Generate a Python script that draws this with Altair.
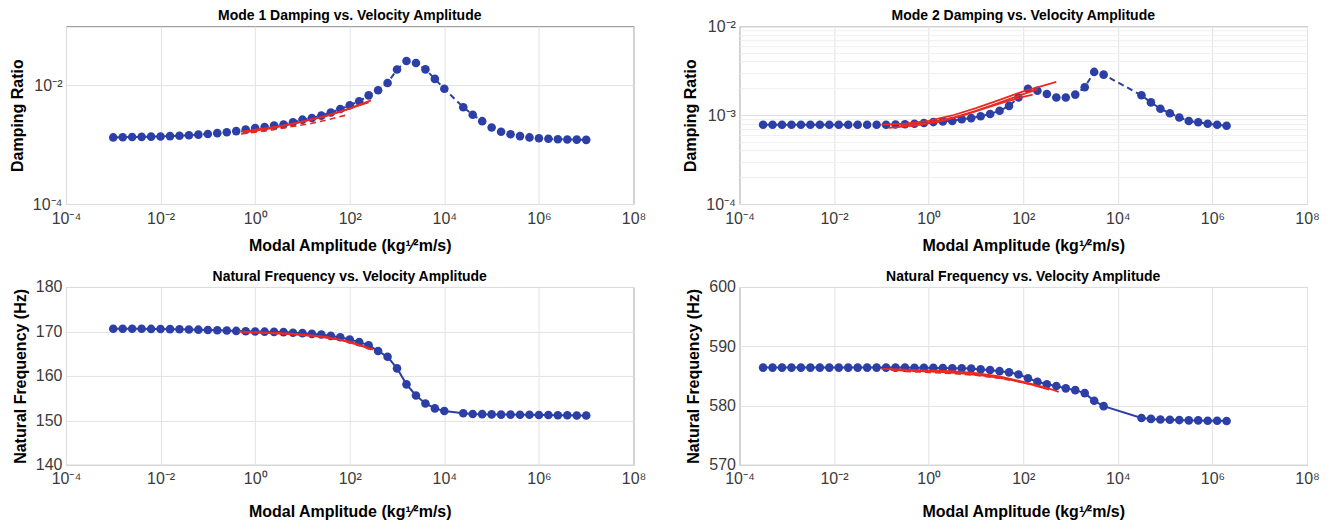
import altair as alt
import pandas as pd

FONT = "Liberation Sans"
BLUE = "#2b3fa6"
RED = "#ea2a22"
X_TITLE = "Modal Amplitude (kg¹⁄²m/s)"
X_TICK_EXP = [-4, -2, 0, 2, 4, 6, 8]

# ---------------- Panel 1: Mode 1 damping (values in units of 1e-3) ----------------
P1_EXP = [-3.0, -2.8, -2.6, -2.4, -2.2, -2.0, -1.8, -1.6, -1.4, -1.2, -1.0, -0.8, -0.6, -0.4, -0.2,
          0.0, 0.2, 0.4, 0.6, 0.8, 1.0, 1.2, 1.4, 1.6, 1.8, 2.0, 2.2, 2.4, 2.6, 2.8, 3.0, 3.2, 3.4,
          3.6, 3.8, 4.0, 4.4, 4.6, 4.8, 5.0, 5.2, 5.4, 5.6, 5.8, 6.0, 6.2, 6.4, 6.6, 6.8, 7.0]
P1_DAMP = [1.33, 1.34, 1.35, 1.36, 1.37, 1.38, 1.40, 1.42, 1.45, 1.48, 1.52, 1.57, 1.63, 1.70, 1.80,
           1.92, 1.99, 2.10, 2.19, 2.40, 2.65, 2.83, 3.10, 3.50, 4.00, 4.65, 5.40, 6.80, 8.30, 11.0,
           18.6, 25.8, 24.0, 18.7, 12.9, 8.8, 4.3, 3.2, 2.5, 1.96, 1.66, 1.50, 1.40, 1.33, 1.29,
           1.26, 1.24, 1.23, 1.22, 1.21]
P1_RA_EXP = [-0.3, 0.0, 0.5, 1.0, 1.5, 2.0, 2.45]
P1_RA_DAMP = [1.66, 1.80, 2.05, 2.45, 3.05, 4.10, 5.60]
P1_RB_EXP = [-0.25, 0.3, 0.8, 1.3, 1.8, 2.2, 2.4]
P1_RB_DAMP = [1.60, 1.88, 2.25, 2.80, 3.60, 4.60, 5.20]
P1_RC_EXP = [-0.3, 0.2, 0.7, 1.2, 1.6, 1.95]
P1_RC_DAMP = [1.52, 1.70, 1.98, 2.30, 2.72, 3.20]

# ---------------- Panel 2: Mode 2 damping (values in units of 1e-3) ----------------
P2_EXP = [-3.5, -3.3, -3.1, -2.9, -2.7, -2.5, -2.3, -2.1, -1.9, -1.7, -1.5, -1.3, -1.1, -0.9, -0.7,
          -0.5, -0.3, -0.1, 0.1, 0.3, 0.5, 0.7, 0.9, 1.1, 1.3, 1.5, 1.7, 1.9, 2.1, 2.3, 2.5, 2.7,
          2.9, 3.1, 3.3, 3.5, 3.7, 4.5, 4.7, 4.9, 5.1, 5.3, 5.5, 5.7, 5.9, 6.1, 6.3]
P2_DAMP = [0.78, 0.78, 0.78, 0.78, 0.78, 0.78, 0.78, 0.78, 0.78, 0.78, 0.78, 0.78, 0.78, 0.78, 0.785,
           0.79, 0.80, 0.815, 0.835, 0.85, 0.86, 0.90, 0.925, 0.97, 1.03, 1.12, 1.27, 1.58, 1.98,
           1.88, 1.73, 1.58, 1.58, 1.70, 2.06, 3.06, 2.85, 1.67, 1.39, 1.18, 1.05, 0.94, 0.86,
           0.83, 0.80, 0.78, 0.76]
P2_RA_EXP = [-1.0, -0.5, 0.0, 0.5, 1.0, 1.5, 2.0, 2.5, 2.7]
P2_RA_DAMP = [0.78, 0.80, 0.86, 0.99, 1.20, 1.48, 1.85, 2.20, 2.36]
P2_RB_EXP = [-0.85, -0.3, 0.2, 0.7, 1.2, 1.7, 2.0, 2.2]
P2_RB_DAMP = [0.72, 0.76, 0.84, 0.98, 1.20, 1.45, 1.60, 1.70]
P2_RC_EXP = [-0.6, 0.0, 0.5, 1.0, 1.5, 2.0, 2.3]
P2_RC_DAMP = [0.75, 0.82, 0.93, 1.12, 1.38, 1.72, 1.95]

# ---------------- Panel 3: Mode 1 natural frequency (Hz) ----------------
P3_EXP = P1_EXP
P3_FREQ = [170.6, 170.6, 170.6, 170.6, 170.57, 170.55, 170.52, 170.48, 170.44, 170.4, 170.33, 170.27,
           170.2, 170.12, 170.05, 170.0, 169.95, 169.9, 169.85, 169.72, 169.62, 169.45, 169.3, 169.0,
           168.7, 168.2, 167.6, 166.9, 165.6, 164.3, 161.7, 158.1, 155.6, 153.8, 152.7, 152.1,
           151.6, 151.45, 151.4, 151.35, 151.3, 151.3, 151.25, 151.25, 151.2, 151.2, 151.15, 151.15,
           151.1, 151.1]
P3_RA_EXP = [-0.35, 0.0, 0.5, 1.0, 1.5, 2.0, 2.5]
P3_RA_FREQ = [169.95, 169.85, 169.65, 169.35, 168.8, 167.7, 165.9]
P3_RB_EXP = [-0.3, 0.3, 0.8, 1.3, 1.8, 2.3, 2.45]
P3_RB_FREQ = [169.8, 169.65, 169.35, 168.9, 168.1, 166.6, 165.9]

# ---------------- Panel 4: Mode 2 natural frequency (Hz) ----------------
P4_EXP = P2_EXP
P4_FREQ = [586.4, 586.4, 586.4, 586.4, 586.4, 586.4, 586.4, 586.4, 586.4, 586.4, 586.4, 586.4, 586.4,
           586.4, 586.4, 586.4, 586.38, 586.36, 586.35, 586.33, 586.3, 586.28, 586.25, 586.1, 586.0,
           585.8, 585.6, 585.25, 584.6, 584.0, 583.6, 583.3, 582.9, 582.6, 582.1, 580.8, 579.9,
           577.9, 577.75, 577.65, 577.6, 577.55, 577.5, 577.5, 577.45, 577.45, 577.4]
P4_RA_EXP = [-1.0, -0.5, 0.0, 0.5, 1.0, 1.5, 2.0, 2.5, 2.75]
P4_RA_FREQ = [586.2, 586.05, 585.95, 585.8, 585.45, 584.9, 584.0, 583.0, 582.3]
P4_RB_EXP = [-0.8, -0.3, 0.2, 0.7, 1.2, 1.7, 2.2, 2.55]
P4_RB_FREQ = [586.0, 585.85, 585.7, 585.45, 585.0, 584.4, 583.5, 582.7]
P4_RC_EXP = [-0.5, 0.0, 0.5, 1.0, 1.5, 2.0, 2.4]
P4_RC_FREQ = [585.75, 585.6, 585.4, 585.1, 584.6, 583.9, 583.1]

SUP = str.maketrans("-0123456789", "⁻⁰¹²³⁴⁵⁶⁷⁸⁹")


def sup(e):
    return "10" + str(e).translate(SUP)


def label_expr(exps):
    parts = [f"abs(log(datum.value)/LN10 - ({e})) < 0.01 ? '{sup(e)}'" for e in exps]
    return " : ".join(parts) + " : ''"


W = 568
H = 178

x_scale = alt.Scale(type="log", domain=[1e-4, 1e8], nice=False)


def x_axis(title_pad):
    return alt.Axis(values=[10.0 ** e for e in X_TICK_EXP], labelExpr=label_expr(X_TICK_EXP),
                    labelFlush=False, labelOverlap=False, labelPadding=6, titlePadding=title_pad)


def make_panel(title, bexp, bval, reds, y_scale, y_axis, y_title, scale_factor, dashed_blue,
               title_pad, title_offset):
    bdf = pd.DataFrame({"x": [10.0 ** e for e in bexp], "y": [v * scale_factor for v in bval]})
    x = alt.X("x:Q", scale=x_scale, axis=x_axis(title_pad), title=X_TITLE)
    y = alt.Y("y:Q", scale=y_scale, axis=y_axis, title=y_title)
    line_kw = dict(color=BLUE, strokeWidth=2, clip=True)
    if dashed_blue:
        line_kw["strokeDash"] = [6, 4]
    layers = [
        alt.Chart(bdf).mark_line(**line_kw).encode(x=x, y=y),
        alt.Chart(bdf).mark_circle(color=BLUE, size=74, opacity=1).encode(x=x, y=y),
    ]
    solid_rows, dash_rows = [], []
    for name, es, vs, dashed in reds:
        for e, v in zip(es, vs):
            (dash_rows if dashed else solid_rows).append({"x": 10.0 ** e, "y": v * scale_factor, "s": name})
    if solid_rows:
        layers.append(alt.Chart(pd.DataFrame(solid_rows)).mark_line(color=RED, strokeWidth=1.8)
                      .encode(x=x, y=y, detail="s:N"))
    if dash_rows:
        layers.append(alt.Chart(pd.DataFrame(dash_rows)).mark_line(color=RED, strokeWidth=1.6,
                                                                   strokeDash=[6, 4])
                      .encode(x=x, y=y, detail="s:N"))
    return alt.layer(*layers).properties(
        width=W, height=H, title=alt.TitleParams(text=title, offset=title_offset))


# y axes
y1_axis = alt.Axis(values=[1e-4, 1e-2], labelExpr=label_expr([-4, -2]), titlePadding=7)
minor_vals = [m * 10.0 ** d for d in (-4, -3) for m in range(1, 10)] + [1e-2]
y2_axis = alt.Axis(
    values=minor_vals, labelExpr=label_expr([-4, -3, -2]), titlePadding=7,
    gridColor={"condition": {"test": "abs(log(datum.value)/LN10 - round(log(datum.value)/LN10)) < 0.01",
                             "value": "#dedede"}, "value": "#efefef"},
)
y3_axis = alt.Axis(values=[140, 150, 160, 170, 180], titlePadding=7)
y4_axis = alt.Axis(values=[570, 580, 590, 600], titlePadding=7)

p1 = make_panel("Mode 1 Damping vs. Velocity Amplitude", P1_EXP, P1_DAMP,
                [("a", P1_RA_EXP, P1_RA_DAMP, False), ("b", P1_RB_EXP, P1_RB_DAMP, False),
                 ("c", P1_RC_EXP, P1_RC_DAMP, True)],
                alt.Scale(type="log", domain=[1e-4, 1e-1], nice=False), y1_axis, "Damping Ratio",
                1e-3, True, 11, 3)
p2 = make_panel("Mode 2 Damping vs. Velocity Amplitude", P2_EXP, P2_DAMP,
                [("a", P2_RA_EXP, P2_RA_DAMP, False), ("b", P2_RB_EXP, P2_RB_DAMP, False),
                 ("c", P2_RC_EXP, P2_RC_DAMP, False)],
                alt.Scale(type="log", domain=[1e-4, 1e-2], nice=False), y2_axis, "Damping Ratio",
                1e-3, True, 11, -5)
p3 = make_panel("Natural Frequency vs. Velocity Amplitude", P3_EXP, P3_FREQ,
                [("a", P3_RA_EXP, P3_RA_FREQ, False), ("b", P3_RB_EXP, P3_RB_FREQ, False)],
                alt.Scale(domain=[140, 180], nice=False), y3_axis, "Natural Frequency (Hz)",
                1.0, False, 17, -5)
p4 = make_panel("Natural Frequency vs. Velocity Amplitude", P4_EXP, P4_FREQ,
                [("a", P4_RA_EXP, P4_RA_FREQ, False), ("b", P4_RB_EXP, P4_RB_FREQ, False),
                 ("c", P4_RC_EXP, P4_RC_FREQ, True)],
                alt.Scale(domain=[570, 600], nice=False), y4_axis, "Natural Frequency (Hz)",
                1.0, False, 17, -5)

chart = (
    alt.concat(p1, p2, p3, p4, columns=2, spacing={"row": 83, "column": 106}, bounds="flush")
    .properties(padding={"left": 0, "top": 0, "right": 5, "bottom": 0})
    .configure_view(stroke="#8a8a8a", strokeWidth=1)
    .configure_axis(
        labelFont=FONT, labelFontSize=16, labelColor="#3a3a3a", labelPadding=4,
        titleFont=FONT, titleFontSize=16, titleFontWeight="bold", titleColor="#000000",
        domain=False, ticks=False, grid=True, gridColor="#e2e2e2", gridWidth=1,
    )
    .configure_title(font=FONT, fontSize=14, fontWeight="bold", color="#000000", anchor="middle")
)

chart.save("out.html", embed_options={"renderer": "svg", "actions": False})
